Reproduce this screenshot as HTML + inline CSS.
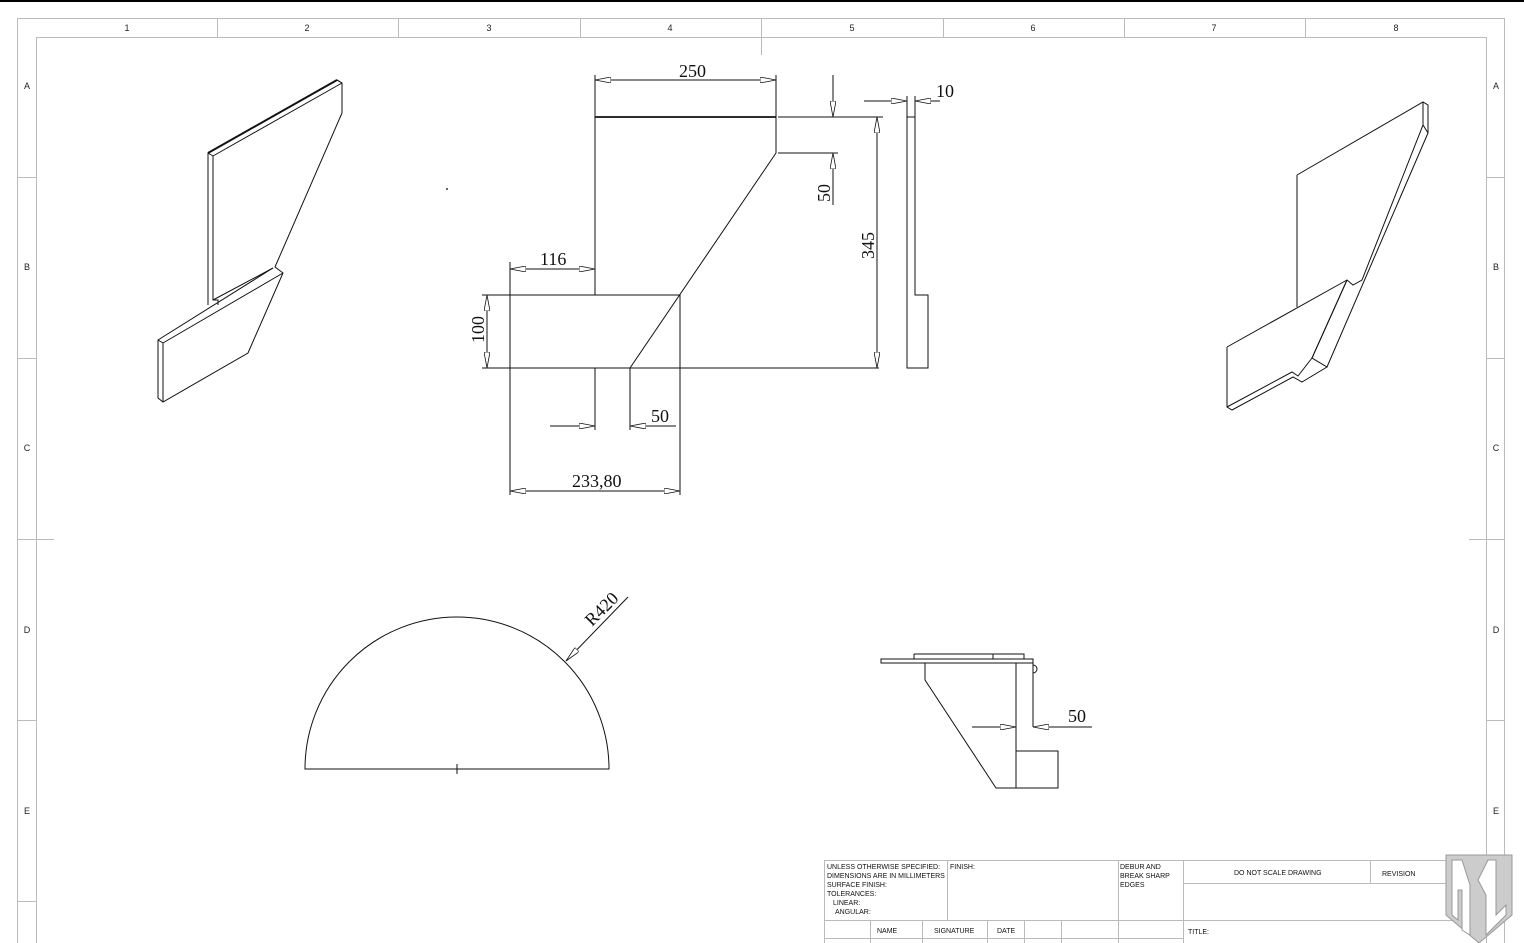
<!DOCTYPE html>
<html><head><meta charset="utf-8"><style>
html,body{margin:0;padding:0;background:#fff}
svg{display:block}
.t{font-family:"Liberation Sans",sans-serif;font-size:9px;fill:#222}
.d{font-family:"Liberation Serif",serif;font-size:18px;fill:#111}
.s{font-family:"Liberation Sans",sans-serif;font-size:7px;fill:#111}
</style></head><body>
<svg width="1524" height="943" viewBox="0 0 1524 943" xmlns="http://www.w3.org/2000/svg">
<defs>
<marker id="a" viewBox="0 0 16 6" refX="16" refY="3" markerWidth="16" markerHeight="6" orient="auto-start-reverse" markerUnits="userSpaceOnUse"><path d="M0,0 L16,3 L0,6 Z" fill="#fff" stroke="#111" stroke-width="0.8"/></marker>
</defs>
<line x1="0" y1="1" x2="1524" y2="1" stroke="#000" stroke-width="2"/>
<g fill="none" stroke="#bbb" stroke-width="1">
<rect x="17.5" y="18.5" width="1487" height="930"/>
<rect x="36.5" y="37.5" width="1450" height="910"/>
<path d="M217.5 18v19M398.5 18v19M580.5 18v19M761.5 18v37M943.5 18v19M1124.5 18v19M1305.5 18v19"/>
<path d="M17 177.5h19M17 358.5h19M17 539.5h37M17 720.5h19M17 901.5h19M1487 177.5h18M1487 358.5h18M1469 539.5h36M1487 720.5h18M1487 901.5h18"/>
</g>
<g class="t" text-anchor="middle">
<text x="127" y="31">1</text><text x="307" y="31">2</text><text x="489" y="31">3</text><text x="670" y="31">4</text><text x="852" y="31">5</text><text x="1033" y="31">6</text><text x="1214" y="31">7</text><text x="1396" y="31">8</text>
<text x="27" y="89">A</text><text x="27" y="270">B</text><text x="27" y="451">C</text><text x="27" y="633">D</text><text x="27" y="814">E</text>
<text x="1496" y="89">A</text><text x="1496" y="270">B</text><text x="1496" y="451">C</text><text x="1496" y="633">D</text><text x="1496" y="814">E</text>
</g>
<g fill="none" stroke="#111" stroke-width="1">
<!-- left iso -->
<path d="M208 153 L337 80 L342 83 L342 113 L275 267 L283 273 L248 353 L163 402 L158 398 L158 340 L273 268"/>
<path d="M208 153 L208 305 M213 156 L213 300 L218 300 L218 305 M213 156 L342 83 M208 153 L213 156 M337 80 L342 83" />
<path d="M158 340 L163 343 L163 402 M163 343 L283 273 M213 300 L273 268" />
<path d="M208 153 L337 80" stroke-width="2"/>
<!-- right iso -->
<path d="M1297 175 L1423 102 L1428 105 L1428 133 L1327 367 L1312 358 L1347 280 L1353 285 L1362 280 L1423 125 L1428 133 M1423 102 L1423 125"/>
<path d="M1297 175 L1297 307 M1227 347 L1347 280 M1227 347 L1227 407 L1232 410 L1293 377 L1302 382 L1327 367 M1227 407 L1292 372 L1298 376 L1312 358 M1312 358 L1347 280"/>
<!-- main view -->
<path d="M595 117 H776 V153 L630 368 M595 117 V295 M510 295 H680 V368 M510 295 V368 H879"/>
<path d="M595 117 H776" stroke-width="1.8"/>
<path d="M595 75 V117 M776 75 V117 M778 117 H838 M778 153 H838 M780 117 H883 M510 262 V495 M595 262 V295 M595 368 V430 M630 368 V430 M680 368 V495 M482 295 H510 M482 368 H510 M907 96 V117 M915 96 V117"/>
<line x1="595" y1="80" x2="776" y2="80" marker-start="url(#a)" marker-end="url(#a)"/>
<line x1="510" y1="269" x2="595" y2="269" marker-start="url(#a)" marker-end="url(#a)"/>
<line x1="487" y1="295" x2="487" y2="368" marker-start="url(#a)" marker-end="url(#a)"/>
<line x1="510" y1="491" x2="680" y2="491" marker-start="url(#a)" marker-end="url(#a)"/>
<line x1="877" y1="117" x2="877" y2="368" marker-start="url(#a)" marker-end="url(#a)"/>
<line x1="833" y1="75" x2="833" y2="117" marker-end="url(#a)"/>
<line x1="833" y1="205" x2="833" y2="153" marker-end="url(#a)"/>
<line x1="550" y1="426" x2="595" y2="426" marker-end="url(#a)"/>
<line x1="676" y1="426" x2="630" y2="426" marker-end="url(#a)"/>
<line x1="864" y1="101" x2="907" y2="101" marker-end="url(#a)"/>
<line x1="940" y1="101" x2="915" y2="101" marker-end="url(#a)"/>
<!-- side view -->
<path d="M907 117 H915 V295 H928 V368 H907 Z"/>
<!-- semicircle -->
<path d="M305 769 A152 152 0 0 1 609 769 Z"/>
<path d="M452 769 H462 M457 764 V774"/>
<line x1="628" y1="597" x2="566" y2="661" marker-end="url(#a)"/>
<!-- bottom right view -->
<path d="M881 659 H1033 V663 H881 Z M914 654 H1024 V659 M914 654 V659 M993 654 V659 M1016 663 V788 M925 663 V680 L996 788 H1058 V751 H1016 M1033 663 V727 M1033 665 a4 4 0 0 1 0 8"/>
<line x1="972" y1="727" x2="1016" y2="727" marker-end="url(#a)"/>
<line x1="1092" y1="727" x2="1033" y2="727" marker-end="url(#a)"/>
</g>
<circle cx="447" cy="189" r="1" fill="#333"/>
<g class="d">
<text x="679" y="77">250</text>
<text x="936" y="97">10</text>
<text x="540" y="265">116</text>
<text x="651" y="422">50</text>
<text x="572" y="487">233,80</text>
<text x="1068" y="722">50</text>
<text transform="translate(830,202) rotate(-90)">50</text>
<text transform="translate(874,259) rotate(-90)">345</text>
<text transform="translate(484,343) rotate(-90)">100</text>
<text transform="translate(592,627) rotate(-45)">R420</text>
</g>
<!-- title block -->
<g fill="none" stroke="#bbb" stroke-width="1">
<path d="M824.5 860 V943 M824.5 860.5 H1487 M947.5 860 V920 M1118.5 860 V943 M1183.5 860 V943 M1183.5 883.5 H1487 M1370.5 860 V883 M824.5 920.5 H1183 M824.5 938.5 H1183 M870.5 920 V943 M922.5 920 V943 M987.5 920 V943 M1024.5 920 V943 M1061.5 920 V943 M1183.5 920.5 H1487"/>
</g>
<g class="s">
<text x="827" y="869">UNLESS OTHERWISE SPECIFIED:</text>
<text x="827" y="878">DIMENSIONS ARE IN MILLIMETERS</text>
<text x="827" y="887">SURFACE FINISH:</text>
<text x="827" y="896">TOLERANCES:</text>
<text x="833" y="905">LINEAR:</text>
<text x="835" y="914">ANGULAR:</text>
<text x="950" y="869">FINISH:</text>
<text x="1120" y="869">DEBUR AND</text>
<text x="1120" y="878">BREAK SHARP</text>
<text x="1120" y="887">EDGES</text>
<text x="1234" y="875">DO NOT SCALE DRAWING</text>
<text x="1382" y="876">REVISION</text>
<text x="877" y="933">NAME</text>
<text x="934" y="933">SIGNATURE</text>
<text x="997" y="933">DATE</text>
<text x="1188" y="934">TITLE:</text>
</g>
<!-- logo -->
<g>
<path d="M1446 855 H1512 V915 L1479 943 L1446 915 Z" fill="#ccc" stroke="#999"/>
<path d="M1452 860 L1462 860 L1470 885 L1470 935 L1462 930 L1462 890 L1458 890 L1458 920 L1452 915 Z M1488 860 L1496 860 L1496 915 L1506 905 L1506 915 L1486 935 L1486 895 L1478 880 Z" fill="#fff" stroke="#999"/>
</g>
</svg>
</body></html>
